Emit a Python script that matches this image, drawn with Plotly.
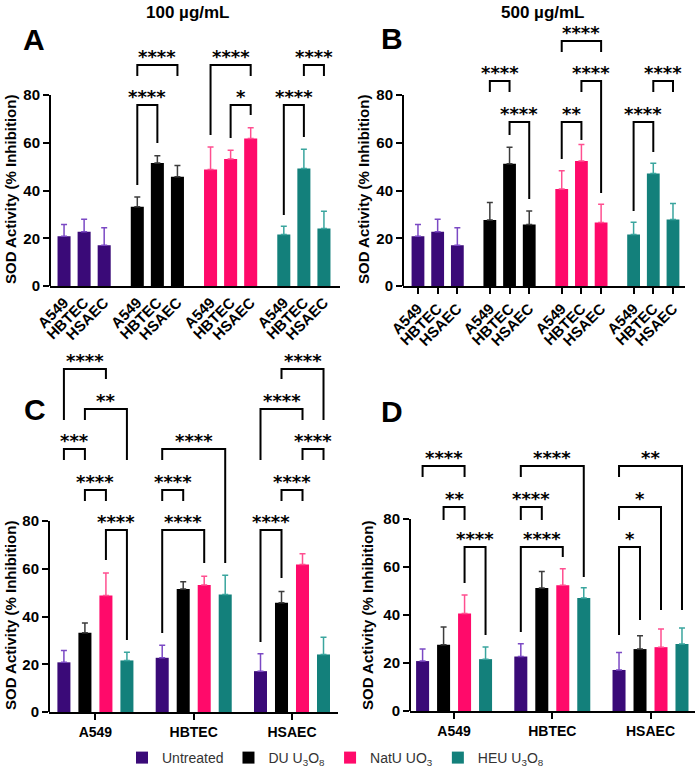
import plotly.graph_objects as go

# ---------------- data ----------------
cells = ["A549", "HBTEC", "HSAEC"]
treatments = ["Untreated", "DU U<sub>3</sub>O<sub>8</sub>", "NatU UO<sub>3</sub>", "HEU U<sub>3</sub>O<sub>8</sub>"]

untreated_mean = [20.8, 22.7, 17.1]
untreated_sd = [5.0, 5.3, 7.3]

du_100_mean = [33.2, 51.5, 45.8]
du_100_sd = [4.1, 3.1, 4.7]
natu_100_mean = [48.8, 53.2, 61.8]
natu_100_sd = [9.4, 3.7, 4.5]
heu_100_mean = [21.6, 49.2, 24.1]
heu_100_sd = [3.4, 8.1, 7.2]

du_500_mean = [27.6, 51.2, 25.8]
du_500_sd = [7.4, 6.9, 5.6]
natu_500_mean = [40.6, 52.4, 26.6]
natu_500_sd = [7.7, 6.9, 7.6]
heu_500_mean = [21.6, 47.1, 27.9]
heu_500_sd = [5.1, 4.3, 6.7]

y_ticks = [0, 20, 40, 60, 80]

# significance brackets: (group_left, item_left, group_right, item_right, top, left_leg_end, right_leg_end, label)
# Panels A/B: group = treatment, item = cell line. Panels C/D: group = cell line, item = treatment.
brackets_A = [
    (1, 0, 1, 2, 92.6, 88.0, 88.0, "****"),
    (1, 0, 1, 1, 75.8, 42.3, 59.9, "****"),
    (2, 0, 2, 2, 92.6, 63.2, 88.0, "****"),
    (2, 1, 2, 2, 75.8, 62.0, 71.6, "*"),
    (3, 1, 3, 2, 92.6, 88.0, 88.0, "****"),
    (3, 0, 3, 1, 75.8, 29.7, 62.4, "****"),
]
brackets_B = [
    (2, 0, 2, 2, 102.6, 98.0, 98.0, "****"),
    (1, 0, 1, 1, 85.9, 81.3, 81.3, "****"),
    (2, 1, 2, 2, 85.9, 81.3, 39.0, "****"),
    (3, 1, 3, 2, 85.9, 81.3, 81.3, "****"),
    (1, 1, 1, 2, 68.7, 63.2, 36.4, "****"),
    (2, 0, 2, 1, 68.7, 53.2, 61.2, "**"),
    (3, 0, 3, 1, 68.7, 31.4, 56.1, "****"),
]
brackets_C = [
    (0, 0, 0, 2, 143.7, 122.3, 139.5, "****"),
    (0, 1, 0, 3, 126.9, 122.3, 105.5, "**"),
    (0, 0, 0, 1, 110.2, 105.5, 105.5, "***"),
    (1, 0, 1, 3, 110.2, 105.5, 62.4, "****"),
    (2, 1, 2, 3, 143.7, 139.5, 122.3, "****"),
    (2, 0, 2, 2, 126.9, 105.5, 122.3, "****"),
    (2, 2, 2, 3, 110.2, 105.5, 105.5, "****"),
    (0, 1, 0, 2, 93.0, 88.4, 88.4, "****"),
    (0, 2, 0, 3, 76.2, 63.7, 30.2, "****"),
    (1, 0, 1, 1, 93.0, 88.4, 88.4, "****"),
    (1, 0, 1, 2, 76.2, 33.1, 62.4, "****"),
    (2, 1, 2, 2, 93.0, 88.4, 88.4, "****"),
    (2, 0, 2, 1, 76.2, 29.3, 56.1, "****"),
]
brackets_D = [
    (0, 0, 0, 2, 102.1, 97.5, 97.5, "****"),
    (0, 1, 0, 2, 85.0, 79.6, 79.6, "**"),
    (0, 2, 0, 3, 68.3, 53.3, 31.7, "****"),
    (1, 0, 1, 3, 102.1, 97.5, 55.8, "****"),
    (1, 0, 1, 1, 85.0, 79.6, 79.6, "****"),
    (1, 0, 1, 2, 68.3, 32.9, 64.2, "****"),
    (2, 0, 2, 3, 102.1, 97.5, 42.1, "**"),
    (2, 0, 2, 2, 85.0, 79.6, 42.1, "*"),
    (2, 0, 2, 1, 68.3, 31.7, 37.9, "*"),
]

# ---------------- styling ----------------
bar_colors = ["#3a0a78", "#000000", "#ff0a6a", "#13807b"]
err_colors = ["#7b49c4", "#3c3c3c", "#ff4f90", "#3aa59e"]
FONT = "Liberation Sans, Arial, sans-serif"
STAR_FONT = "DejaVu Sans, sans-serif"
W, H = 700, 767

GAP_AB = 3.65   # group spacing (bar units) in panels A/B
GAP_CD = 4.68   # group spacing in panels C/D


def pos_ab(g, i):
    return g * GAP_AB + i


def pos_cd(g, i):
    return g * GAP_CD + (i - 1.5)


fig = go.Figure()

means_100 = [untreated_mean, du_100_mean, natu_100_mean, heu_100_mean]
sds_100 = [untreated_sd, du_100_sd, natu_100_sd, heu_100_sd]
means_500 = [untreated_mean, du_500_mean, natu_500_mean, heu_500_mean]
sds_500 = [untreated_sd, du_500_sd, natu_500_sd, heu_500_sd]


def add_bars(means, sds, xa, ya, posfn, by_treatment_group, width, legend):
    for t in range(4):
        if by_treatment_group:
            xs = [posfn(t, c) for c in range(3)]
        else:
            xs = [posfn(c, t) for c in range(3)]
        fig.add_trace(go.Bar(
            x=xs, y=means[t], width=width,
            name=treatments[t], legendgroup=str(t), showlegend=legend,
            marker=dict(color=bar_colors[t], line=dict(width=0)),
            error_y=dict(type="data", array=sds[t], arrayminus=[0] * 3, symmetric=False,
                         color=err_colors[t], thickness=1.5, width=3),
            xaxis=xa, yaxis=ya,
        ))


add_bars(means_100, sds_100, "x", "y", pos_ab, True, 0.65, False)
add_bars(means_500, sds_500, "x2", "y2", pos_ab, True, 0.65, False)
add_bars(means_100, sds_100, "x3", "y3", pos_cd, False, 0.62, True)
add_bars(means_500, sds_500, "x4", "y4", pos_cd, False, 0.62, False)

shapes = []
annotations = []


def add_brackets(br, xa, ya, posfn):
    for gl, il, gr, ir, top, ll, rl, lab in br:
        x0 = posfn(gl, il)
        x1 = posfn(gr, ir)
        shapes.append(dict(type="path", xref=xa, yref=ya,
                           path=f"M {x0},{ll} L {x0},{top} L {x1},{top} L {x1},{rl}",
                           line=dict(color="black", width=2)))
        annotations.append(dict(x=(x0 + x1) / 2, y=top, xref=xa, yref=ya, text=lab,
                                showarrow=False, yanchor="bottom", yshift=-4,
                                font=dict(family=STAR_FONT, size=18, color="black", weight="bold")))


add_brackets(brackets_A, "x", "y", pos_ab)
add_brackets(brackets_B, "x2", "y2", pos_ab)
add_brackets(brackets_C, "x3", "y3", pos_cd)
add_brackets(brackets_D, "x4", "y4", pos_cd)

# y axis lines only from 0 to 80
for xa, ya in [("x", "y"), ("x2", "y2"), ("x3", "y3"), ("x4", "y4")]:
    shapes.append(dict(type="line", xref=f"{xa} domain", yref=ya, x0=0, x1=0, y0=0, y1=80,
                       line=dict(color="black", width=2)))


def pdom(px0, px1):
    return [px0 / W, px1 / W]


def vdom(py_bottom, py_top):
    return [1 - py_bottom / H, 1 - py_top / H]


tickfont = dict(family=FONT, size=15, color="black", weight="bold")


def yaxis(rng, dom, anchor):
    return dict(range=rng, domain=dom, anchor=anchor, tickvals=y_ticks, ticks="outside",
                ticklen=6, tickwidth=2, tickcolor="black", showline=False, showgrid=False,
                zeroline=False, tickfont=tickfont, fixedrange=True)


def xaxis(rng, dom, anchor, tickvals, ticktext, angle, ticks, size):
    return dict(range=rng, domain=dom, anchor=anchor, tickvals=tickvals, ticktext=ticktext,
                tickangle=angle, ticks=ticks, ticklen=6, tickwidth=2, tickcolor="black",
                showline=True, linewidth=2, linecolor="black", showgrid=False, zeroline=False,
                tickfont=dict(family=FONT, size=size, color="black", weight="bold"), fixedrange=True)


ab_ticks = [pos_ab(g, i) for g in range(4) for i in range(3)]
ab_text = [cells[i] for g in range(4) for i in range(3)]
cd_ticks = [pos_cd(c, 1.5) for c in range(3)]

fig.update_layout(
    xaxis=xaxis([-0.7, 13.75], pdom(50, 340), "y", ab_ticks, ab_text, -45, "", 15),
    yaxis=yaxis([0, 100], vdom(286, 47.25), "x"),
    xaxis2=xaxis([-0.76, 13.56], pdom(403, 685), "y2", ab_ticks, ab_text, -45, "outside", 15),
    yaxis2=yaxis([0, 110], vdom(286, 23.4), "x2"),
    xaxis3=xaxis([-2.21, 11.55], pdom(49, 338), "y3", cd_ticks, cells, 0, "outside", 14),
    yaxis3=yaxis([0, 152], vdom(712, 349.1), "x3"),
    xaxis4=xaxis([-2.1, 11.48], pdom(410, 695), "y4", cd_ticks, cells, 0, "outside", 14),
    yaxis4=yaxis([0, 110], vdom(711, 447), "x4"),
)

# titles, panel letters, y titles
def paper_text(px, py, text, size, bold=True, angle=0, family=FONT, color="black"):
    annotations.append(dict(x=px / W, y=1 - py / H, xref="paper", yref="paper", text=text,
                            showarrow=False, xanchor="center", yanchor="middle", textangle=angle,
                            font=dict(family=family, size=size, color=color,
                                      weight="bold" if bold else "normal")))


paper_text(188, 13, "100 µg/mL", 17)
paper_text(543, 13, "500 µg/mL", 17)
paper_text(34, 40, "A", 30)
paper_text(392, 38, "B", 30)
paper_text(35, 410, "C", 30)
paper_text(392, 411, "D", 30)
ytitle = "SOD Activity (% Inhibition)"
paper_text(10, 190, ytitle, 15, angle=-90)
paper_text(363, 190, ytitle, 15, angle=-90)
paper_text(10, 616, ytitle, 15, angle=-90)
paper_text(367, 615, ytitle, 15, angle=-90)

fig.update_layout(
    width=W, height=H,
    margin=dict(l=0, r=0, t=0, b=0, autoexpand=False),
    paper_bgcolor="white", plot_bgcolor="white",
    barmode="overlay",
    shapes=shapes, annotations=annotations,
    showlegend=True,
    legend=dict(orientation="h", x=122 / W, y=1 - 758 / H, xanchor="left", yanchor="middle",
                font=dict(family=FONT, size=14, color="#333333"), traceorder="normal",
                itemclick=False, itemdoubleclick=False, bgcolor="rgba(0,0,0,0)"),
)

fig.write_html("out.html")
